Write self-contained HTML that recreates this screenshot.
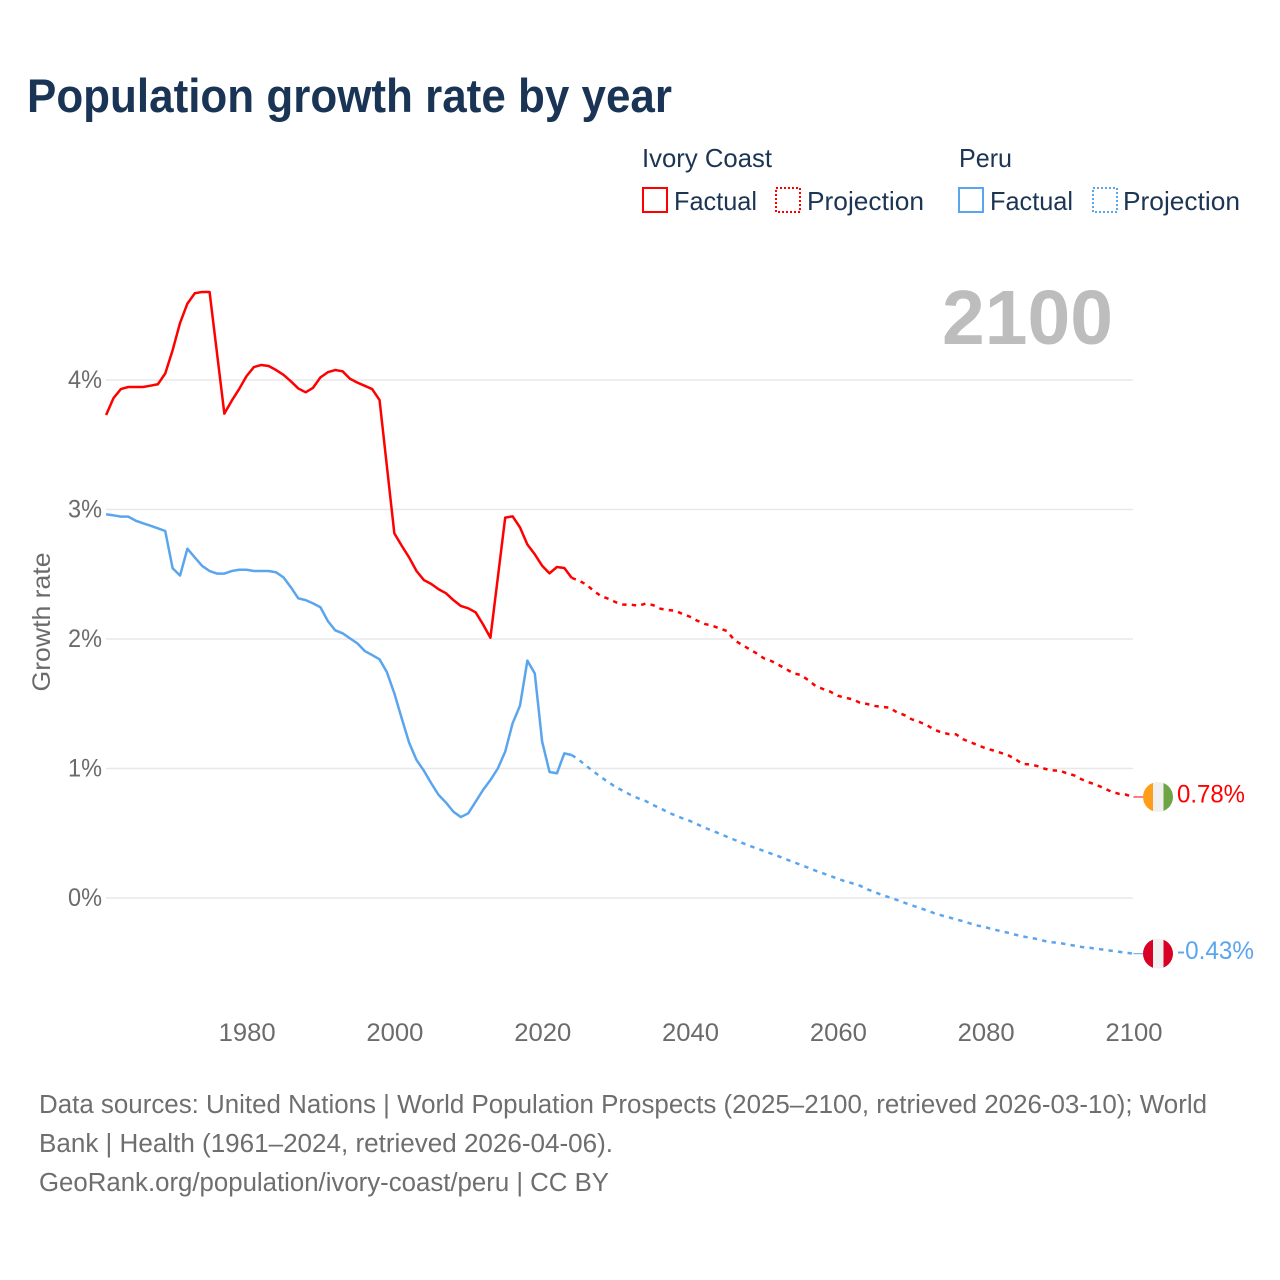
<!DOCTYPE html>
<html lang="en">
<head>
<meta charset="utf-8">
<title>Population growth rate by year</title>
<style>
  html, body { margin: 0; padding: 0; background: #fff; }
  body { width: 1280px; height: 1280px; overflow: hidden; }
  svg { display: block; font-family: "Liberation Sans", sans-serif; }
</style>
</head>
<body>
<svg id="chart" xmlns="http://www.w3.org/2000/svg" width="1280" height="1280" viewBox="0 0 1280 1280">
  <defs>
    <clipPath id="flag-clip"><circle cx="0" cy="0" r="15"></circle></clipPath>
  </defs>
  <rect x="0" y="0" width="1280" height="1280" fill="#ffffff"></rect>
  <text x="27" y="112" font-size="47" font-weight="700" fill="#1a3455" textLength="645" lengthAdjust="spacingAndGlyphs">Population growth rate by year</text>

  <g font-size="26" fill="#1c3553">
    <text x="642" y="167" textLength="130" lengthAdjust="spacingAndGlyphs">Ivory Coast</text>
    <text x="959" y="167" textLength="53" lengthAdjust="spacingAndGlyphs">Peru</text>
    <rect x="643" y="188" width="24" height="24" fill="none" stroke="#ff0000" stroke-width="2"></rect>
    <text x="674" y="210" textLength="83" lengthAdjust="spacingAndGlyphs">Factual</text>
    <rect x="776" y="188" width="24" height="24" fill="none" stroke="#ff0000" stroke-width="2" stroke-dasharray="2 2"></rect>
    <text x="807" y="210" textLength="117" lengthAdjust="spacingAndGlyphs">Projection</text>
    <rect x="959" y="188" width="24" height="24" fill="none" stroke="#5aa5ee" stroke-width="2"></rect>
    <text x="990" y="210" textLength="83" lengthAdjust="spacingAndGlyphs">Factual</text>
    <rect x="1093" y="188" width="24" height="24" fill="none" stroke="#5aa5ee" stroke-width="2" stroke-dasharray="2 2"></rect>
    <text x="1123" y="210" textLength="117" lengthAdjust="spacingAndGlyphs">Projection</text>
  </g>

  <text x="942" y="344" font-size="77" font-weight="700" fill="#bdbdbd" textLength="171" lengthAdjust="spacingAndGlyphs">2100</text>

  <g id="grid"></g>
  <g id="y-axis"></g>
  <g id="x-axis"></g>
  <text transform="translate(50 622) rotate(-90)" text-anchor="middle" font-size="25" fill="#6b6b6b" textLength="139" lengthAdjust="spacingAndGlyphs">Growth rate</text>
  <g id="series"></g>
  <g id="ends"></g>

  <g font-size="25.5" fill="#6e6e6e">
    <text x="39" y="1113" textLength="1168" lengthAdjust="spacingAndGlyphs">Data sources: United Nations | World Population Prospects (2025–2100, retrieved 2026-03-10); World</text>
    <text x="39" y="1152" textLength="574" lengthAdjust="spacingAndGlyphs">Bank | Health (1961–2024, retrieved 2026-04-06).</text>
    <text x="39" y="1191" textLength="570" lengthAdjust="spacingAndGlyphs">GeoRank.org/population/ivory-coast/peru | CC BY</text>
  </g>
</svg>

<script>
const xTickYears = [1980, 2000, 2020, 2040, 2060, 2080, 2100];
const yTickValues = [0, 1, 2, 3, 4];
const factualStartYear = 1961;
const projectionStartYear = 2024;

const ivoryCoastFactual = [
  3.73, 3.86, 3.93, 3.946, 3.946, 3.946, 3.956, 3.967, 4.05, 4.23,
  4.44, 4.59, 4.67, 4.68, 4.68, 4.21, 3.74, 3.84, 3.93, 4.03,
  4.10, 4.116, 4.108, 4.077, 4.04, 3.99, 3.935, 3.905, 3.94, 4.02,
  4.06, 4.077, 4.067, 4.01, 3.98, 3.955, 3.93, 3.845, 3.33, 2.816,
  2.72, 2.63, 2.525, 2.455, 2.425, 2.384, 2.353, 2.30, 2.255, 2.237,
  2.206, 2.113, 2.01, 2.473, 2.937, 2.947, 2.862, 2.73, 2.654, 2.566,
  2.507, 2.556, 2.548, 2.472
];
const ivoryCoastProjection = [
  2.472, 2.45, 2.42, 2.37, 2.33, 2.31, 2.283, 2.265, 2.265, 2.257,
  2.273, 2.262, 2.234, 2.224, 2.219, 2.193, 2.172, 2.141, 2.116, 2.103,
  2.082, 2.062, 1.992, 1.956, 1.923, 1.89, 1.851, 1.83, 1.80, 1.768,
  1.735, 1.722, 1.683, 1.637, 1.614, 1.593, 1.562, 1.547, 1.534, 1.508,
  1.498, 1.483, 1.475, 1.47, 1.434, 1.413, 1.38, 1.361, 1.336, 1.302,
  1.279, 1.266, 1.264, 1.225, 1.202, 1.179, 1.156, 1.14, 1.122, 1.104,
  1.073, 1.035, 1.032, 1.019, 0.998, 0.986, 0.983, 0.963, 0.947, 0.916,
  0.893, 0.873, 0.849, 0.821, 0.805, 0.798, 0.78
];
const peruFactual = [
  2.963, 2.955, 2.945, 2.945, 2.914, 2.893, 2.875, 2.855, 2.834, 2.546,
  2.49, 2.697, 2.63, 2.564, 2.525, 2.505, 2.505, 2.525, 2.535, 2.535,
  2.525, 2.525, 2.525, 2.515, 2.476, 2.40, 2.314, 2.30, 2.275, 2.245,
  2.139, 2.067, 2.044, 2.005, 1.966, 1.907, 1.876, 1.843, 1.743, 1.58,
  1.387, 1.20, 1.066, 0.983, 0.885, 0.795, 0.736, 0.666, 0.625, 0.654,
  0.744, 0.834, 0.911, 1.0, 1.13, 1.349, 1.485, 1.833, 1.735, 1.207,
  0.973, 0.963, 1.117, 1.104
];
const peruProjection = [
  1.104, 1.066, 1.019, 0.975, 0.932, 0.893, 0.855, 0.826, 0.795, 0.77,
  0.749, 0.718, 0.693, 0.662, 0.638, 0.615, 0.595, 0.569, 0.543, 0.52,
  0.497, 0.473, 0.45, 0.427, 0.404, 0.384, 0.363, 0.342, 0.322, 0.299,
  0.278, 0.255, 0.234, 0.211, 0.191, 0.17, 0.149, 0.129, 0.113, 0.095,
  0.067, 0.046, 0.023, 0.005, -0.015, -0.036, -0.056, -0.075, -0.095, -0.116,
  -0.134, -0.149, -0.165, -0.18, -0.198, -0.214, -0.226, -0.242, -0.255, -0.268,
  -0.283, -0.296, -0.307, -0.317, -0.332, -0.342, -0.347, -0.358, -0.368, -0.378,
  -0.384, -0.392, -0.399, -0.407, -0.415, -0.422, -0.43
];

const NS = 'http://www.w3.org/2000/svg';
const RED = '#ff0000';
const BLUE = '#5aa5ee';

function xScale(year) { return 1133.4 + (year - 2100) * (1027.3 / 139); }
function yScale(value) { return 898 - value * 129.5; }

function create(tag, parent, attrs, text) {
  const el = document.createElementNS(NS, tag);
  for (const key in attrs) el.setAttribute(key, attrs[key]);
  if (text !== undefined) el.textContent = text;
  parent.appendChild(el);
  return el;
}

function pathFrom(values, startYear) {
  return values.map(function (v, i) {
    return (i ? 'L' : 'M') + xScale(startYear + i).toFixed(2) + ' ' + yScale(v).toFixed(2);
  }).join(' ');
}

const gridGroup = document.getElementById('grid');
const yGroup = document.getElementById('y-axis');
const xGroup = document.getElementById('x-axis');
const seriesGroup = document.getElementById('series');
const endsGroup = document.getElementById('ends');

yTickValues.forEach(function (tick) {
  const line = create('line', gridGroup, { x1: 106, x2: 1133, y1: yScale(tick), y2: yScale(tick), stroke: '#e8e8e8', 'stroke-width': 1.5 });
  
  
  const label = create('text', yGroup, { x: 68, y: yScale(tick) + 8, 'font-size': 25, fill: '#6b6b6b', textLength: 34, lengthAdjust: 'spacingAndGlyphs' }, tick + '%');
  
  
});

xTickYears.forEach(function (year) {
  const label = create('text', xGroup, { x: xScale(year) - 27.9, y: 1041, 'font-size': 25, fill: '#6b6b6b', textLength: 57, lengthAdjust: 'spacingAndGlyphs' }, String(year));
  
  
});

const solidAttrs = { fill: 'none', 'stroke-width': 2.5, 'stroke-linejoin': 'round' };
const dashAttrs = { fill: 'none', 'stroke-width': 2.5, 'stroke-dasharray': '4.4 5.2' };

const icSolid = create('path', seriesGroup, Object.assign({ d: pathFrom(ivoryCoastFactual, factualStartYear), stroke: RED }, solidAttrs));



const icDash = create('path', seriesGroup, Object.assign({ d: pathFrom(ivoryCoastProjection, projectionStartYear), stroke: RED }, dashAttrs));



const peruSolid = create('path', seriesGroup, Object.assign({ d: pathFrom(peruFactual, factualStartYear), stroke: BLUE }, solidAttrs));



const peruDash = create('path', seriesGroup, Object.assign({ d: pathFrom(peruProjection, projectionStartYear), stroke: BLUE }, dashAttrs));



function drawFlag(parent, cy, colors) {
  const cx = xScale(2100) + 24.6;
  const g = create('g', parent, { transform: 'translate(' + cx + ' ' + cy + ')', 'clip-path': 'url(#flag-clip)' });
  create('rect', g, { x: -15, y: -15, width: 10, height: 30, fill: colors[0] });
  create('rect', g, { x: -5, y: -15, width: 10.5, height: 30, fill: '#f0f0f0' });
  create('rect', g, { x: 5.5, y: -15, width: 10, height: 30, fill: colors[1] });
  return g;
}

const icEnd = ivoryCoastProjection[ivoryCoastProjection.length - 1];
const peruEnd = peruProjection[peruProjection.length - 1];

const icConnector = create('line', endsGroup, { x1: xScale(2100), x2: xScale(2100) + 10, y1: yScale(icEnd), y2: yScale(icEnd), stroke: RED, 'stroke-width': 1 });



const peruConnector = create('line', endsGroup, { x1: xScale(2100), x2: xScale(2100) + 10, y1: yScale(peruEnd), y2: yScale(peruEnd), stroke: BLUE, 'stroke-width': 1 });



const icFlag = drawFlag(endsGroup, yScale(icEnd), ['#ff9e1b', '#6da544']);



const peruFlag = drawFlag(endsGroup, yScale(peruEnd), ['#d80027', '#d80027']);



const icValue = create('text', endsGroup, { x: 1177, y: yScale(icEnd) + 5.5, 'font-size': 25, fill: RED, textLength: 68, lengthAdjust: 'spacingAndGlyphs' }, icEnd.toFixed(2) + '%');



const peruValue = create('text', endsGroup, { x: 1177, y: yScale(peruEnd) + 5.5, 'font-size': 25, fill: BLUE, textLength: 77, lengthAdjust: 'spacingAndGlyphs' }, peruEnd.toFixed(2) + '%');


</script>
</body>
</html>
